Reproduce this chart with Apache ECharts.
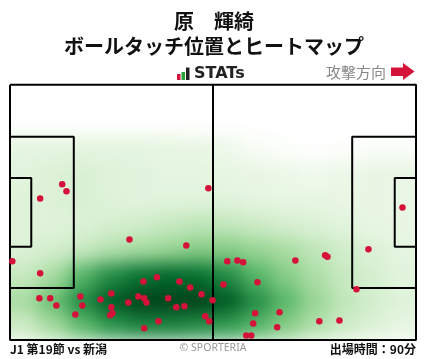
<!DOCTYPE html>
<html><head><meta charset="utf-8">
<script src="https://cdn.jsdelivr.net/npm/echarts@6/dist/echarts.min.js"></script>
<style>
html,body{margin:0;padding:0;background:#fff;}
#wrap{position:relative;width:428px;height:359px;overflow:hidden;background:#fff;}
#heatClip{position:absolute;left:10px;top:84.7px;width:406px;height:255.3px;overflow:hidden;}
#heat{position:absolute;left:-29px;top:-25.53px;width:464px;height:306.36px;filter:blur(9px);}
#main{position:absolute;left:0;top:0;width:428px;height:359px;}
</style></head><body>
<div id="wrap"><div id="heatClip"><div id="heat"></div></div><div id="main"></div></div>
<script>
// Ball touches, pitch metres (x: 0-105 attacking right, y: 0-68 from top)
const touches = [
[13.5,26.5],[14.6,28.4],[7.8,30.3],[51.3,27.6],[101.5,32.7],[30.9,41.2],[45.6,42.8],[0.6,47.0],[7.8,50.2],
[34.5,52.4],[38.0,51.3],[43.8,52.4],[46.6,54.0],[49.5,55.8],[52.4,57.4],[7.6,56.9],[10.4,56.9],[12.0,58.8],
[18.2,56.4],[18.7,58.8],[16.9,61.2],[23.4,57.2],[26.2,55.6],[26.2,59.3],[26.5,60.9],[25.9,61.4],[30.6,58.0],
[33.2,56.4],[34.7,56.9],[35.3,58.0],[40.9,56.9],[43.0,59.3],[45.1,59.0],[38.4,63.0],[34.7,64.9],[50.5,61.7],
[51.5,63.0],[92.7,43.8],[89.6,54.5],[56.2,47.0],[58.8,46.8],[60.3,47.3],[73.8,46.8],[81.5,45.4],[82.1,45.8],
[55.2,53.2],[64.0,52.6],[63.4,60.9],[69.7,60.6],[62.9,63.6],[69.1,64.6],[80.0,63.0],[85.2,62.8],[61.1,66.8],[62.4,66.8]
];
// Heat intensity: 10 rows (top->bottom) x 14 columns (left->right), scale 0-9
const heatGrid = [
[0,0,0,0,0,0,0,0,0,0,0,0,0,0],
[0,0,0,0,0,0,0,0,0,0,0,0,0,0],
[2.0,2.0,2.0,2.0,2.0,1.9,1.8,1.5,0.9,0.4,0.1,0.3,0.6,0.6],
[2.1,2.3,2.4,2.2,2.1,2.0,2.0,1.9,1.8,1.6,1.4,1.6,1.8,1.8],
[2.2,2.3,2.4,2.2,2.1,2.1,2.1,2.1,2.0,1.9,1.9,1.8,1.8,1.7],
[2.2,2.2,2.3,2.5,2.7,3.0,3.2,3.1,2.8,2.5,2.3,2.1,1.9,1.8],
[2.3,2.6,3.0,3.5,3.9,4.2,4.6,4.6,4.2,3.8,3.2,2.7,2.3,2.0],
[3.0,3.8,5.6,7.0,7.8,8.1,7.9,7.0,5.6,4.6,3.7,3.0,2.5,2.1],
[3.8,5.2,7.0,8.4,9.5,9.8,9.2,8.4,6.9,5.5,4.2,3.2,2.6,2.2],
[2.8,3.9,5.4,6.6,7.2,7.2,6.9,6.4,5.6,4.6,3.6,2.8,2.3,1.9]
];
const heatColors = ['#ffffff','#f7fcf5','#e5f5e0','#c7e9c0','#a1d99b','#74c476','#41ab5d','#238b45','#006d2c','#00441b'];
// Pitch markings (metres)
const pitchLines = [
[[0,0],[105,0],[105,68],[0,68],[0,0]],
[[52.5,0],[52.5,68]],
[[0,13.84],[16.5,13.84],[16.5,54.16],[0,54.16]],
[[0,24.84],[5.5,24.84],[5.5,43.16],[0,43.16]],
[[105,13.84],[88.5,13.84],[88.5,54.16],[105,54.16]],
[[105,24.84],[99.5,24.84],[99.5,43.16],[105,43.16]]
];
const titleText = '原　輝綺';
const subtitleText = 'ボールタッチ位置とヒートマップ';
const matchText = 'J1 第19節 vs 新潟';
const minutesText = '出場時間：90分';

// ---- heat layer (edge-padded; fades out past the bottom line) ----
const rows = heatGrid.length, cols = heatGrid[0].length;
const heatData = [];
for (let r = -1; r <= rows; r++) {
  for (let c = -1; c <= cols; c++) {
    const rr = Math.min(Math.max(r, 0), rows - 1), cc = Math.min(Math.max(c, 0), cols - 1);
    const v = r === rows ? 0 : heatGrid[rr][cc];
    heatData.push([c + 1, r + 1, v]);
  }
}
const heat = echarts.init(document.getElementById('heat'), null, {renderer: 'canvas'});
heat.setOption({
  animation: false,
  grid: {left: 0, right: 0, top: 0, bottom: 0},
  xAxis: {type: 'category', data: Array.from({length: cols + 2}, (_, i) => i), show: false},
  yAxis: {type: 'category', data: Array.from({length: rows + 2}, (_, i) => i), inverse: true, show: false},
  visualMap: {show: false, min: 0, max: 9, dimension: 2, inRange: {color: heatColors}},
  series: [{type: 'heatmap', data: heatData, itemStyle: {borderWidth: 0}, emphasis: {disabled: true}}]
});

// ---- main layer ----
const main = echarts.init(document.getElementById('main'), null, {renderer: 'canvas'});
const CJK = '"Noto Sans CJK JP", sans-serif';
const series = pitchLines.map(pts => ({
  type: 'line', data: pts, symbol: 'none', silent: true, clip: false, z: 2,
  lineStyle: {color: '#000', width: 2}
}));
series.push({
  type: 'scatter', data: touches, symbolSize: 6.5, z: 5, silent: true,
  itemStyle: {color: '#d5123a', opacity: 1}
});
main.setOption({
  animation: false,
  backgroundColor: 'transparent',
  grid: {left: 10, right: 12, top: 84.7, bottom: 19},
  xAxis: {type: 'value', min: 0, max: 105, show: false},
  yAxis: {type: 'value', min: 0, max: 68, inverse: true, show: false},
  series: series,
  graphic: [
    {type: 'text', x: 214, y: 21, style: {text: titleText, font: 'bold 20px ' + CJK, fill: '#111', align: 'center', verticalAlign: 'middle'}},
    {type: 'text', x: 214, y: 46, style: {text: subtitleText, font: 'bold 20px ' + CJK, fill: '#111', align: 'center', verticalAlign: 'middle'}},
    {type: 'rect', shape: {x: 177, y: 74, width: 3.5, height: 6}, style: {fill: '#d5123a'}},
    {type: 'rect', shape: {x: 181.5, y: 72, width: 3.5, height: 8}, style: {fill: '#2aa33a'}},
    {type: 'rect', shape: {x: 186, y: 67.5, width: 3.5, height: 12.5}, style: {fill: '#222'}},
    {type: 'text', x: 194, y: 74, style: {text: 'STATs', font: 'bold 16px "DejaVu Sans", sans-serif', fill: '#222', align: 'left', verticalAlign: 'middle'}},
    {type: 'text', x: 326, y: 72, style: {text: '攻撃方向', font: '15px ' + CJK, fill: '#888', align: 'left', verticalAlign: 'middle'}},
    {type: 'polygon', shape: {points: [[391,67.5],[403,67.5],[403,63],[414.5,71.5],[403,80],[403,76],[391,76]]}, style: {fill: '#d5123a'}},
    {type: 'text', x: 10, y: 349, style: {text: matchText, font: 'bold 12px ' + CJK, fill: '#111', align: 'left', verticalAlign: 'middle'}},
    {type: 'text', x: 213, y: 348, style: {text: '© SPORTERIA', font: '10.5px "Noto Sans", sans-serif', fill: '#999', align: 'center', verticalAlign: 'middle'}},
    {type: 'text', x: 416, y: 349, style: {text: minutesText, font: 'bold 12px ' + CJK, fill: '#111', align: 'right', verticalAlign: 'middle'}}
  ]
});
</script>
</body></html>
